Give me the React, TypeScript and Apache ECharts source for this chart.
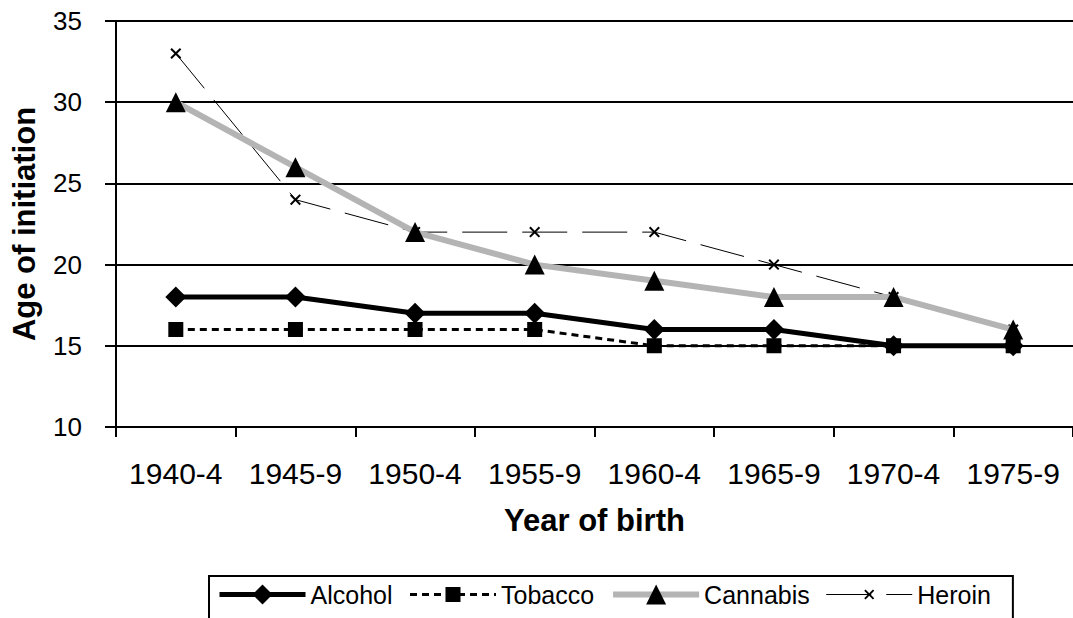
import React, { useEffect, useRef } from "react";
import * as echarts from "echarts";

const categories = ["1940-4", "1945-9", "1950-4", "1955-9", "1960-4", "1965-9", "1970-4", "1975-9"];
const alcohol = [18, 18, 17, 17, 16, 16, 15, 15];
const tobacco = [16, 16, 16, 16, 15, 15, 15, 15];
const cannabis = [30, 26, 22, 20, 19, 18, 18, 16];
const heroin = [33, 24, 22, 22, 22, 20, 18, 16];
const seriesNames = ["Alcohol", "Tobacco", "Cannabis", "Heroin"];

const FONT = "'Liberation Sans', Arial, Helvetica, sans-serif";
const SPECKS = "M0,0L0.01,0L0.01,0.01Z M19.99,19.99L20,19.99L20,20Z";
const SQUARE = "path://M2.5,2.5L17.5,2.5L17.5,17.5L2.5,17.5Z " + SPECKS;
const CROSS =
  "path://M5,6.3L6.3,5L10,8.7L13.7,5L15,6.3L11.3,10L15,13.7L13.7,15L10,11.3L6.3,15L5,13.7L8.7,10Z " + SPECKS;

export default function App() {
  const ref = useRef<HTMLDivElement>(null);
  useEffect(() => {
    if (!ref.current) return;
    const chart = echarts.init(ref.current, undefined, { renderer: "svg" });
    chart.setOption({
      animation: false,
      backgroundColor: "#fff",
      grid: { left: 116, top: 21, width: 960, height: 406 },
      legend: {
        data: seriesNames,
        left: 209,
        top: 576,
        orient: "horizontal",
        itemWidth: 86,
        itemHeight: 25,
        itemGap: 16,
        padding: [6, 22, 20, 8],
        borderColor: "#000",
        borderWidth: 2,
        lineStyle: { width: "inherit" },
        textStyle: { fontSize: 25, color: "#000", fontFamily: FONT },
      },
      xAxis: {
        type: "category",
        data: categories,
        boundaryGap: true,
        name: "Year of birth",
        nameLocation: "middle",
        nameGap: 78,
        nameTextStyle: { fontSize: 31, fontWeight: "bold", color: "#000", fontFamily: FONT },
        axisLine: { show: true, lineStyle: { color: "#000", width: 2 } },
        axisTick: { show: true, length: 10, lineStyle: { color: "#000", width: 2 } },
        axisLabel: { fontSize: 30, color: "#000", margin: 31, fontFamily: FONT, interval: 0 },
        splitLine: { show: false },
      },
      yAxis: {
        type: "value",
        min: 10,
        max: 35,
        interval: 5,
        name: "Age of initiation",
        nameLocation: "middle",
        nameGap: 76,
        nameTextStyle: { fontSize: 31, fontWeight: "bold", color: "#000", fontFamily: FONT },
        axisLine: { show: true, lineStyle: { color: "#000", width: 2 } },
        axisTick: { show: true, length: 11, lineStyle: { color: "#000", width: 2 } },
        axisLabel: { fontSize: 26, color: "#000", margin: 34, fontFamily: FONT },
        splitLine: { show: true, lineStyle: { color: "#000", width: 2 } },
      },
      series: [
        {
          name: "Alcohol",
          type: "line",
          data: alcohol,
          symbol: "diamond",
          symbolSize: 21,
          itemStyle: { color: "#000" },
          lineStyle: { color: "#000", width: 5 },
          z: 5,
        },
        {
          name: "Tobacco",
          type: "line",
          data: tobacco,
          symbol: SQUARE,
          symbolSize: 20,
          itemStyle: { color: "#000" },
          lineStyle: { color: "#000", width: 3, type: [7, 5] },
          z: 4,
        },
        {
          name: "Cannabis",
          type: "line",
          data: cannabis,
          symbol: "triangle",
          symbolSize: 20,
          itemStyle: { color: "#000" },
          lineStyle: { color: "#b4b4b4", width: 6 },
          z: 3,
        },
        {
          name: "Heroin",
          type: "line",
          data: heroin,
          symbol: CROSS,
          symbolSize: 22,
          itemStyle: { color: "#000" },
          lineStyle: { color: "#000", width: 1, type: [45, 15] },
          z: 2,
        },
      ],
    });
    return () => chart.dispose();
  }, []);
  return (
    <div
      ref={ref}
      style={{ position: "absolute", left: 0, top: 0, width: 1073, height: 618 }}
    />
  );
}
